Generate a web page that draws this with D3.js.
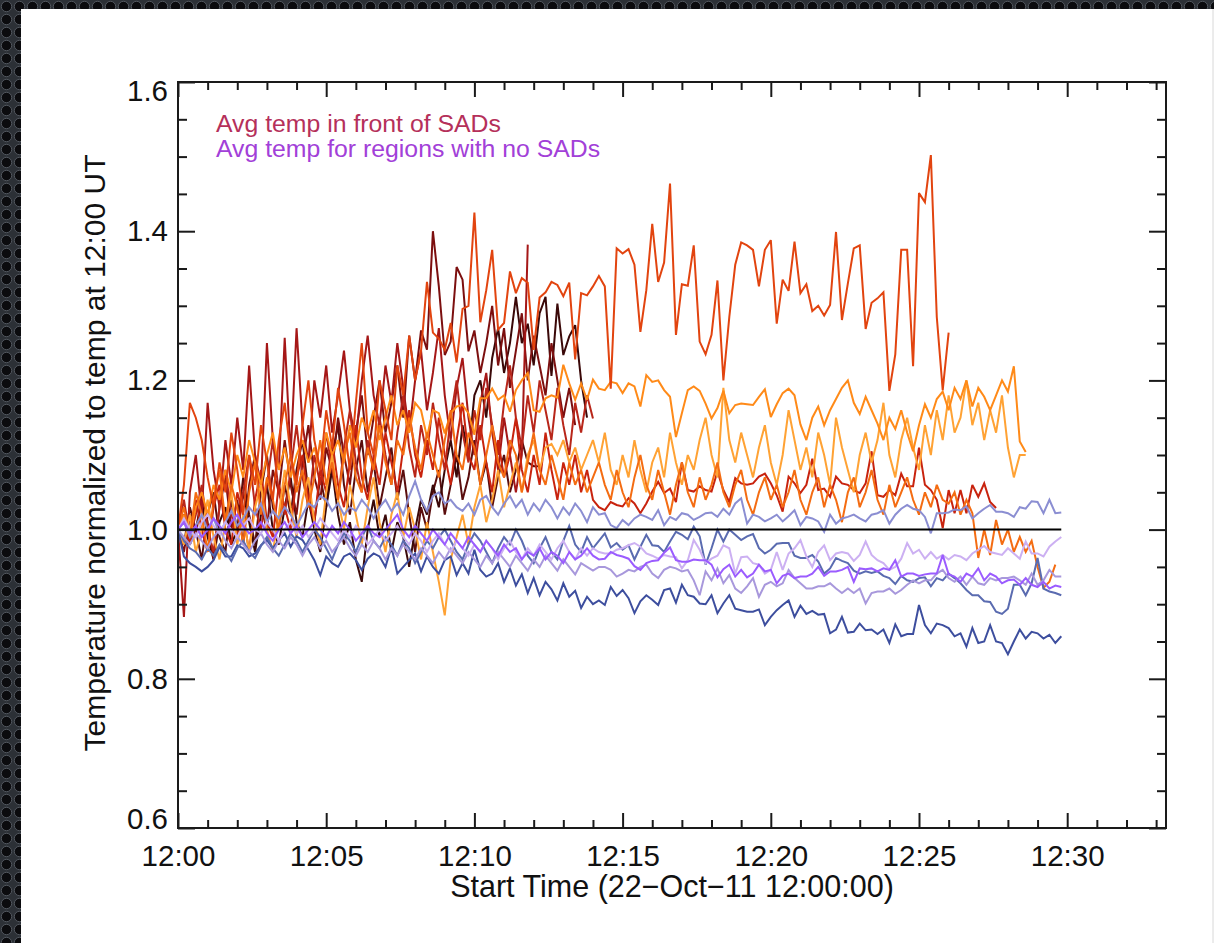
<!DOCTYPE html>
<html>
<head>
<meta charset="utf-8">
<script src="https://cdn.jsdelivr.net/npm/d3@7"></script>
<style>
  html, body { margin: 0; padding: 0; background: #202328; }
  svg { display: block; }
  text { font-family: "Liberation Sans", Arial, Helvetica, sans-serif; }
</style>
</head>
<body>
<script>
// Sampling cadence of every series (seconds after 12:00:00 UT)
const stepSeconds = 12;

// Axis ticks
const xMajorSeconds = [0, 300, 600, 900, 1200, 1500, 1800];
const xTickLabels = ["12:00", "12:05", "12:10", "12:15", "12:20", "12:25", "12:30"];
const yMajorValues = [0.6, 0.8, 1.0, 1.2, 1.4, 1.6];
const yTickLabels = ["0.6", "0.8", "1.0", "1.2", "1.4", "1.6"];

// Normalized temperature in front of SADs (one array per region)
const sadA = [1.0, 1.06, 1.17, 1.15, 1.12, 1.07, 1.03, 1.09, 1.05, 1.13, 1.08, 1.02, 1.1, 1.06, 1.14, 1.09, 1.04, 1.12, 1.17, 1.1, 1.06, 1.14, 1.2, 1.12, 1.08, 1.16, 1.11, 1.19, 1.14, 1.08, 1.17, 1.25, 1.13, 1.1, 1.2, 1.16, 1.12, 1.22, 1.18, 1.26, 1.2, 1.24,
  1.332,
  1.264, 1.256, 1.241, 1.277, 1.224, 1.296, 1.300, 1.425, 1.278, 1.321, 1.375, 1.268, 1.277, 1.346, 1.317, 1.337, 1.331, 1.241, 1.311, 1.318, 1.332, 1.328, 1.313, 1.331, 1.228, 1.317, 1.314, 1.326, 1.340, 1.326, 1.189, 1.377, 1.370, 1.376, 1.355, 1.265, 1.321, 1.410, 1.332, 1.358, 1.464,
  1.261, 1.329, 1.327, 1.381, 1.252, 1.235, 1.261, 1.334, 1.200, 1.285, 1.355, 1.385, 1.381, 1.375, 1.326, 1.375, 1.388, 1.276, 1.335, 1.320, 1.386, 1.317, 1.329, 1.293, 1.300, 1.287, 1.301, 1.399, 1.281, 1.330, 1.377, 1.381, 1.269, 1.304, 1.310, 1.318, 1.186, 1.235, 1.375, 1.375, 1.219, 1.451, 1.439, 1.502, 1.285, 1.187, 1.264];

const sadB = [1.0, 1.02, 0.99, 1.03, 1.05, 1.02, 1.06, 1.04, 1.08, 1.05, 1.1, 1.07, 1.12, 1.09, 1.06, 1.1, 1.13, 1.08, 1.11, 1.07, 1.1, 1.12, 1.09, 1.11, 1.08, 1.13, 1.1, 1.12, 1.09, 1.14, 1.11, 1.15, 1.13, 1.16, 1.12, 1.15, 1.18, 1.14, 1.16, 1.13, 1.17,
  1.160, 1.124, 1.160, 1.156, 1.129, 1.156, 1.165, 1.167, 1.156, 1.127, 1.176, 1.176, 1.189, 1.174, 1.180, 1.158, 1.187, 1.200, 1.210, 1.160, 1.158, 1.176, 1.180, 1.177, 1.221, 1.196, 1.174, 1.196, 1.174, 1.201, 1.189, 1.187, 1.198, 1.196, 1.183, 1.196, 1.192, 1.165, 1.207, 1.198, 1.200, 1.187, 1.178,
  1.124, 1.156, 1.187, 1.192, 1.186, 1.169, 1.149, 1.163, 1.186, 1.156, 1.167, 1.169, 1.168, 1.167, 1.178, 1.188, 1.151, 1.168, 1.183, 1.189, 1.18, 1.141, 1.12, 1.15, 1.165, 1.14, 1.16, 1.175, 1.19, 1.2, 1.17, 1.155, 1.178, 1.16, 1.142, 1.12, 1.15, 1.135, 1.16, 1.13, 1.105, 1.14, 1.168, 1.15, 1.175, 1.185, 1.16, 1.19, 1.175, 1.2, 1.165, 1.19, 1.178, 1.16, 1.18, 1.2, 1.185, 1.219, 1.118, 1.104];

const sadC = [1.0, 0.98, 1.02, 0.97, 1.0, 1.04, 0.99, 0.96, 1.01, 1.05, 0.98, 1.02, 0.97, 1.03, 1.06, 1.0, 0.97, 1.02, 1.08, 1.03, 0.99, 1.04, 1.07, 1.01, 0.98, 1.05, 1.1, 1.04, 1.0, 1.06, 1.02, 0.98, 1.03, 1.07, 1.01, 0.97, 1.02, 1.05, 0.99, 1.03, 1.0, 0.96, 1.01, 0.97, 0.93, 0.885, 0.96, 0.99, 1.02, 0.98, 1.03, 1.06, 1.01, 1.04, 1.08, 1.03, 1.06, 1.09, 1.05, 1.1, 1.12, 1.08, 1.11, 1.115, 1.1, 1.12, 1.09, 1.11, 1.08, 1.1, 1.12,
  1.09, 1.13, 1.08, 1.06, 1.1, 1.07, 1.12, 1.08, 1.05, 1.09, 1.11, 1.07, 1.13, 1.09, 1.06, 1.1, 1.08, 1.12, 1.15, 1.1, 1.07, 1.19, 1.12, 1.09, 1.13, 1.1, 1.07, 1.11, 1.14, 1.09, 1.06, 1.1, 1.16, 1.12, 1.08, 1.11, 1.07, 1.13, 1.1, 1.06, 1.15, 1.11, 1.08, 1.05, 1.1, 1.13, 1.09, 1.12, 1.17, 1.1, 1.07, 1.12, 1.15, 1.11, 1.08, 1.14, 1.1, 1.16, 1.12, 1.18, 1.13, 1.15, 1.2, 1.14, 1.17, 1.12, 1.16, 1.13, 1.18, 1.11, 1.07, 1.1, 1.1];

const sadD = [1.0, 1.03, 0.99, 1.05, 1.02, 0.97, 1.04, 1.08, 1.01, 1.06, 1.03, 0.98, 1.05, 1.09, 1.02, 1.07, 1.04, 1.0, 1.06, 1.1, 1.05, 1.08, 1.03, 1.07, 1.12, 1.06, 1.09, 1.04, 1.1, 1.13, 1.07, 1.05, 1.11, 1.08, 1.14, 1.09, 1.06, 1.12, 1.1, 1.15, 1.11, 1.08, 1.13, 1.1, 1.07, 1.12, 1.16, 1.1, 1.08, 1.13, 1.11, 1.06, 1.1, 1.14, 1.09, 1.07, 1.12, 1.1, 1.05, 1.09, 1.13, 1.08, 1.06, 1.1, 1.07, 1.04, 1.09, 1.06, 1.08, 1.05, 1.07,
  1.09, 1.06, 1.04, 1.08, 1.05, 1.03, 1.07, 1.1, 1.06, 1.04, 1.08, 1.05, 1.02, 1.06, 1.09, 1.05, 1.03, 1.07, 1.04, 1.06, 1.09, 1.05, 1.03, 1.06, 1.08, 1.04, 1.02, 1.05, 1.07, 1.04, 1.06, 1.03, 1.05, 1.08, 1.04, 1.02, 1.05, 1.07, 1.03, 1.06, 1.04, 1.01, 1.05, 1.07, 1.03, 1.05, 1.08, 1.04, 1.02, 1.06, 1.03, 1.05, 1.07, 1.04, 1.02, 1.05, 1.03, 1.06, 1.04, 1.035, 1.05, 1.02, 1.04, 1.022, 0.962, 1.0, 0.966, 1.013, 0.98, 1.0, 0.97, 0.99, 0.97, 0.985, 0.95, 0.922, 0.93, 0.953];

const sadE = [1.0, 1.02, 0.98, 1.04, 1.0, 0.97, 1.03, 1.06, 1.0, 0.98, 1.05, 1.02, 0.97, 1.04, 1.08, 1.01, 0.99, 1.06, 1.03, 1.0, 1.07, 1.1, 1.04, 1.01, 1.08, 1.05, 1.12, 1.06, 1.03, 1.09, 1.14, 1.07, 1.04, 1.1, 1.06, 1.13, 1.09, 1.05, 1.11, 1.16, 1.1, 1.07, 1.12, 1.08, 1.15, 1.1, 1.06, 1.12, 1.17, 1.1, 1.08, 1.14, 1.09, 1.05, 1.12, 1.07, 1.1, 1.15, 1.08, 1.05, 1.1, 1.06, 1.13, 1.08, 1.04, 1.09, 1.06, 1.1, 1.05, 1.08, 1.04, 1.03,
  1.026, 1.037, 1.033, 1.031, 1.042, 1.035, 1.022, 1.035, 1.051, 1.064, 1.049, 1.055, 1.037, 1.09, 1.053, 1.051, 1.058, 1.053, 1.051, 1.078, 1.053, 1.037, 1.069, 1.062, 1.06, 1.062, 1.071, 1.075, 1.062, 1.046, 1.024, 1.071, 1.062, 1.049, 1.06, 1.095, 1.053, 1.055, 1.044, 1.071, 1.062, 1.06, 1.053, 1.049, 1.062, 1.105, 1.046, 1.044, 1.053, 1.046, 1.075, 1.058, 1.058, 1.11, 1.06, 1.053, 1.04, 1.002, 1.053, 1.022, 1.053, 1.022, 1.06, 1.044, 1.062, 1.037, 1.029];

const sadF = [1.0, 0.883, 1.05, 1.1, 1.02, 1.17, 1.08, 1.03, 1.12, 1.06, 1.15, 1.08, 1.22, 1.1, 1.06, 1.25, 1.12, 1.08, 1.257, 1.1, 1.27, 1.14, 1.09, 1.2, 1.15, 1.22, 1.13, 1.18, 1.24, 1.16, 1.12, 1.2, 1.26, 1.18, 1.14, 1.22, 1.17, 1.25, 1.19, 1.13, 1.2, 1.24, 1.16, 1.21, 1.27, 1.18, 1.12, 1.19, 1.23, 1.15, 1.1, 1.17, 1.21, 1.13, 1.08, 1.15, 1.1, 1.05, 1.1, 1.382];

const sadG = [1.0, 0.97, 1.02, 0.99, 1.05, 1.01, 0.96, 1.03, 1.07, 1.0, 1.04, 0.98, 1.06, 1.1, 1.03, 1.0, 1.08, 1.05, 1.12, 1.06, 1.02, 1.09, 1.14, 1.07, 1.04, 1.11, 1.08, 1.15, 1.1, 1.06, 1.13, 1.18, 1.1, 1.15, 1.2, 1.13, 1.17, 1.22, 1.15, 1.26, 1.2, 1.267, 1.241, 1.400, 1.326, 1.234, 1.252, 1.352, 1.335, 1.239, 1.267, 1.21, 1.25, 1.3, 1.22, 1.27, 1.19, 1.24, 1.29, 1.2, 1.26, 1.22, 1.18, 1.25, 1.2, 1.15, 1.19, 1.14];

const sadH = [1.0, 1.02, 0.98, 1.0, 1.04, 0.99, 0.96, 1.01, 1.03, 0.98, 1.0, 1.05, 1.01, 0.97, 1.02, 1.06, 1.0, 0.98, 1.03, 1.07, 1.01, 0.99, 1.04, 1.0, 0.97, 1.03, 1.08, 1.02, 0.98, 1.01, 0.96, 0.93, 1.0, 1.04, 0.99, 1.02, 0.97, 1.01, 0.99, 0.95, 1.0, 1.04, 1.02, 1.06, 1.03, 1.08, 1.12, 1.07, 1.14, 1.1, 1.18, 1.2, 1.15, 1.23, 1.27, 1.21, 1.25, 1.312, 1.25, 1.276, 1.22, 1.29, 1.312, 1.206, 1.303, 1.234, 1.259, 1.274, 1.2, 1.15];

const sadI = [1.0, 1.04, 0.99, 1.02, 1.06, 1.0, 0.97, 1.03, 1.08, 1.02, 0.99, 1.05, 1.1, 1.03, 1.0, 1.06, 1.12, 1.05, 1.02, 1.08, 1.14, 1.07, 1.03, 1.1, 1.06, 1.13, 1.08, 1.04, 1.11, 1.16, 1.09, 1.05, 1.12, 1.08, 1.15, 1.1, 1.06, 1.13, 1.18, 1.11, 1.07, 1.14, 1.1, 1.17, 1.12, 1.08, 1.15, 1.2, 1.13, 1.09, 1.16, 1.12, 1.19, 1.14, 1.1, 1.17, 1.22, 1.15, 1.11, 1.18, 1.13, 1.2, 1.16, 1.12, 1.19, 1.14, 1.1, 1.17, 1.13, 1.18, 1.149];

const sadJ = [1.0, 0.98, 1.03, 1.0, 0.96, 1.02, 1.05, 0.99, 0.97, 1.04, 1.0, 1.07, 1.02, 0.98, 1.05, 1.1, 1.03, 1.0, 1.06, 1.02, 1.08, 1.12, 1.05, 1.01, 1.07, 1.03, 1.1, 1.14, 1.06, 1.02, 1.08, 1.12, 1.05, 1.09, 1.03, 1.07, 1.11, 1.04, 1.08, 1.02, 0.97, 1.03, 1.0, 1.05, 1.08, 1.02, 1.06, 1.1, 1.04, 1.07, 1.12, 1.06, 1.09, 1.03, 1.07, 1.1, 1.05, 1.08, 1.12, 1.09, 1.085, 1.085];

// Normalized temperature for regions with no SADs
const noSad1 = [1.0, 0.964, 0.955, 0.950, 0.944, 0.950, 0.959, 0.977, 0.964, 0.964, 0.979, 0.975, 0.964, 0.968, 0.979, 0.986, 0.975, 0.986, 0.995, 0.977, 0.991, 0.986, 0.973, 0.959, 0.939, 0.964, 0.955, 0.950, 0.964, 0.968, 0.959, 0.946, 0.961, 0.968, 0.964, 0.950, 0.977, 0.941, 0.950, 0.959, 0.968, 0.944, 0.964, 0.950, 0.941, 0.959, 0.964, 0.939, 0.955, 0.941, 0.973, 0.946, 0.937, 0.941,
  0.955, 0.93, 0.948, 0.925, 0.94, 0.915, 0.935, 0.912, 0.93, 0.92, 0.905, 0.928, 0.91, 0.918, 0.895, 0.91, 0.9, 0.905,
  0.899, 0.923, 0.911, 0.919, 0.908, 0.888, 0.904, 0.912, 0.906, 0.899, 0.919, 0.921, 0.902, 0.926, 0.912, 0.910, 0.901, 0.900, 0.912, 0.888, 0.901, 0.912, 0.894, 0.892, 0.890, 0.890, 0.893, 0.872, 0.883, 0.892, 0.899, 0.905, 0.883, 0.898, 0.887, 0.891, 0.886, 0.887, 0.861, 0.866, 0.883, 0.862, 0.863, 0.874, 0.865, 0.866, 0.860, 0.866, 0.848, 0.873, 0.857, 0.860, 0.860, 0.899, 0.872, 0.861, 0.874, 0.872, 0.868, 0.857, 0.861, 0.843, 0.868, 0.848, 0.850, 0.872, 0.850, 0.848, 0.833, 0.850, 0.866, 0.854, 0.863, 0.861, 0.854, 0.859, 0.848, 0.857];

const noSad2 = [1.0, 0.985, 0.975, 0.97, 0.96, 0.975, 0.965, 0.98, 0.97, 0.958, 0.975, 0.985, 0.97, 0.962, 0.978, 0.99, 0.975, 0.965, 0.98, 0.995, 0.985, 0.97, 0.985, 1.0, 0.99, 0.975, 0.96, 0.98, 0.995, 0.985, 0.97, 0.99, 1.005, 0.985, 0.975, 0.99, 0.98, 0.965, 0.985, 0.975, 0.955, 0.97, 0.985, 0.975, 0.99, 1.0, 0.985, 0.97, 0.96, 0.98, 0.995, 0.985, 0.97, 0.955, 0.975, 0.99, 0.98, 1.0, 0.985, 0.965, 0.955, 0.975, 0.99, 0.97, 0.96, 0.985, 1.005, 0.98, 0.97, 0.99, 0.975, 0.985,
  0.995, 0.976, 0.982, 0.973, 0.979, 0.960, 0.977, 0.993, 0.979, 0.978, 0.970, 0.984, 0.997, 0.993, 0.987, 1.004, 0.991, 0.953, 0.975, 1.000, 0.984, 1.000, 0.993, 0.986, 0.991, 0.994, 0.975, 0.968, 0.973, 0.981, 0.982, 0.982, 0.965, 0.962, 0.962, 0.966, 0.957, 0.941, 0.948, 0.962, 0.958, 0.955, 0.945, 0.941, 0.944, 0.942, 0.944, 0.938, 0.935, 0.927, 0.938, 0.932, 0.930, 0.935, 0.936, 0.924, 0.935, 0.932, 0.941, 0.935, 0.928, 0.919, 0.912, 0.912, 0.904, 0.903, 0.890, 0.887, 0.894, 0.926, 0.926, 0.912, 0.928, 0.962, 0.921, 0.917, 0.915, 0.912];

const noSad3 = [1.0, 1.01, 0.99, 1.005, 1.02, 1.0, 1.015, 0.995, 1.01, 1.025, 1.005, 1.015, 1.03, 1.02, 1.035, 1.01, 1.025, 1.015, 1.03, 1.02, 1.005, 1.02, 1.035, 1.03, 1.045, 1.04, 1.025, 1.035, 1.02, 1.03, 1.025, 1.04, 1.03, 1.015, 1.03, 1.04, 1.025, 1.035, 1.02, 1.045, 1.065, 1.04, 1.025, 1.045, 1.05, 1.035, 1.04, 1.03, 1.025, 1.035, 1.02, 1.04, 1.045, 1.03, 1.02, 1.035, 1.045, 1.03, 1.04, 1.02, 1.035, 1.025, 1.04, 1.03, 1.015, 1.03, 1.02, 1.035, 1.025, 1.01, 1.03, 1.02,
  1.022, 1.006, 1.002, 1.013, 1.006, 1.015, 1.020, 1.017, 1.013, 1.026, 1.006, 1.017, 1.013, 1.022, 1.020, 1.013, 1.017, 1.022, 1.023, 1.017, 1.028, 1.020, 1.035, 1.042, 1.008, 1.020, 1.017, 1.011, 1.015, 1.020, 1.011, 1.018, 1.026, 1.006, 1.017, 1.015, 1.011, 0.997, 1.020, 1.008, 1.015, 1.017, 1.020, 1.015, 1.011, 1.020, 1.022, 1.026, 1.008, 1.020, 1.028, 1.033, 1.028, 1.026, 1.017, 0.995, 1.022, 1.022, 1.023, 1.027, 1.026, 1.031, 1.015, 1.022, 1.028, 1.033, 1.024, 1.024, 1.022, 1.017, 1.030, 1.028, 1.038, 1.037, 1.022, 1.040, 1.022, 1.023];

const noSad4 = [1.0, 1.01, 0.995, 1.005, 0.99, 1.0, 1.015, 1.005, 0.995, 1.01, 1.02, 1.005, 0.995, 1.0, 1.01, 0.995, 0.985, 1.0, 1.01, 0.995, 1.005, 0.99, 1.0, 1.01, 1.0, 0.99, 1.005, 0.995, 1.01, 1.0, 0.985, 0.995, 1.005, 0.995, 0.99, 1.0, 1.01, 1.02, 1.0, 0.99, 1.005, 0.995, 0.985, 1.0, 0.99, 0.98, 0.995, 0.985, 0.975, 0.99, 0.98, 0.97, 0.985, 0.975, 0.965, 0.98, 0.97, 0.975, 0.96, 0.97, 0.965, 0.975, 0.96, 0.97, 0.965, 0.955, 0.97, 0.96, 0.965, 0.975, 0.965, 0.96,
  0.961, 0.970, 0.966, 0.964, 0.961, 0.951, 0.946, 0.955, 0.958, 0.959, 0.969, 0.976, 0.959, 0.957, 0.957, 0.960, 0.959, 0.959, 0.953, 0.936, 0.947, 0.953, 0.937, 0.946, 0.936, 0.941, 0.953, 0.944, 0.946, 0.928, 0.938, 0.941, 0.935, 0.937, 0.937, 0.941, 0.950, 0.938, 0.944, 0.944, 0.946, 0.950, 0.930, 0.948, 0.947, 0.948, 0.944, 0.948, 0.946, 0.959, 0.937, 0.941, 0.941, 0.938, 0.940, 0.941, 0.941, 0.966, 0.940, 0.937, 0.930, 0.941, 0.937, 0.948, 0.932, 0.941, 0.937, 0.928, 0.932, 0.933, 0.926, 0.935, 0.926, 0.923, 0.930, 0.921, 0.925, 0.923];

const noSad5 = [1.0, 1.015, 1.0, 0.99, 1.01, 1.02, 1.005, 0.995, 1.01, 1.0, 0.99, 1.005, 1.015, 1.0, 0.995, 1.01, 1.0, 0.985, 1.0, 1.01, 0.995, 1.005, 0.99, 1.0, 1.015, 1.005, 0.995, 0.985, 1.0, 0.99, 1.005, 0.995, 0.98, 0.99, 1.0, 0.985, 0.995, 1.005, 0.99, 0.98, 0.995, 0.985, 0.97, 0.985, 0.995, 0.98, 0.97, 0.985, 0.975, 0.965, 0.98, 0.97, 0.985, 0.975, 0.96, 0.975, 0.985, 0.97, 0.96, 0.975, 0.965, 0.98, 0.97, 0.96, 0.975, 0.985, 0.97, 0.96, 0.975, 0.965, 0.975, 0.97,
  0.968, 0.968, 0.973, 0.975, 0.979, 0.982, 0.977, 0.968, 0.965, 0.961, 0.966, 0.964, 0.963, 0.948, 0.959, 0.986, 0.973, 0.955, 0.961, 0.965, 0.979, 0.975, 0.941, 0.963, 0.964, 0.955, 0.953, 0.941, 0.946, 0.970, 0.946, 0.968, 0.975, 0.986, 0.964, 0.950, 0.970, 0.979, 0.959, 0.968, 0.970, 0.968, 0.958, 0.966, 0.984, 0.966, 0.959, 0.955, 0.946, 0.950, 0.961, 0.982, 0.968, 0.973, 0.961, 0.970, 0.961, 0.966, 0.960, 0.966, 0.964, 0.959, 0.968, 0.973, 0.978, 0.970, 0.968, 0.966, 0.975, 0.968, 0.961, 0.984, 0.968, 0.968, 0.964, 0.977, 0.984, 0.990];

const noSad6 = [1.0, 0.99, 0.98, 0.995, 0.985, 0.975, 0.99, 1.0, 0.985, 0.975, 0.99, 0.98, 0.97, 0.985, 0.995, 0.98, 0.97, 0.985, 0.975, 0.99, 0.98, 0.965, 0.98, 0.99, 0.975, 0.985, 0.97, 0.98, 0.99, 0.975, 0.965, 0.98, 0.97, 0.985, 0.975, 0.96, 0.975, 0.965, 0.98, 0.97, 0.96, 0.975, 0.965, 0.955, 0.97, 0.96, 0.975, 0.965, 0.955, 0.97, 0.96, 0.95, 0.965, 0.955, 0.97, 0.96, 0.95, 0.965, 0.955, 0.945, 0.96, 0.95, 0.965, 0.955, 0.945, 0.96, 0.95, 0.94, 0.955, 0.95, 0.945, 0.95,
  0.950, 0.946, 0.937, 0.941, 0.946, 0.944, 0.950, 0.953, 0.941, 0.935, 0.946, 0.950, 0.948, 0.944, 0.946, 0.932, 0.912, 0.944, 0.932, 0.948, 0.928, 0.939, 0.921, 0.915, 0.924, 0.935, 0.910, 0.926, 0.930, 0.924, 0.928, 0.946, 0.935, 0.928, 0.921, 0.921, 0.924, 0.924, 0.928, 0.921, 0.915, 0.921, 0.915, 0.921, 0.901, 0.915, 0.917, 0.917, 0.921, 0.914, 0.919, 0.926, 0.932, 0.928, 0.932, 0.932, 0.941, 0.946, 0.935, 0.930, 0.937, 0.926, 0.937, 0.928, 0.926, 0.935, 0.932, 0.935, 0.935, 0.937, 0.932, 0.926, 0.941, 0.926, 0.932, 0.946, 0.937, 0.937];

// Line colours (drawn in this order: SAD regions first, quiet regions on top)
const seriesValues = [sadJ, sadH, sadG, sadF, sadI, sadE, sadC, sadB, sadD, sadA,
                      noSad1, noSad2, noSad3, noSad6, noSad5, noSad4];
const seriesColors = ["#5a0d0d", "#3a0808", "#7c0f0f", "#a51717", "#b8261a", "#c8230e", "#ffa234", "#ff8a18", "#f46c12", "#e2440f",
                      "#3d4e9e", "#5a6bb0", "#8b8ed2", "#a898dc", "#ccb0f2", "#9b5cff"];

const legendLines = ["Avg temp in front of SADs", "Avg temp for regions with no SADs"];
const legendColors = ["#b5305a", "#a240d8"];

// ---------------------------------------------------------------
const W = 1214, H = 943;
const plot = { left: 178, right: 1166, top: 82, bottom: 828 };

const svg = d3.select("body").append("svg")
  .attr("width", W).attr("height", H);

// Perforated dark frame behind the white page
const defs = svg.append("defs");
const holes = defs.append("pattern")
  .attr("id", "holes").attr("patternUnits", "userSpaceOnUse")
  .attr("width", 13).attr("height", 13);
holes.append("rect").attr("width", 13).attr("height", 13).attr("fill", "#2c3036");
holes.append("circle").attr("cx", 6.5).attr("cy", 6.5).attr("r", 5.2)
  .attr("fill", "#0b0b0e").attr("stroke", "#50555d").attr("stroke-width", 1);
svg.append("rect").attr("width", W).attr("height", H).attr("fill", "url(#holes)");
svg.append("rect").attr("x", 21).attr("y", 9).attr("width", W - 21).attr("height", H - 9).attr("fill", "#ffffff");
svg.append("line").attr("x1", W - 1).attr("x2", W - 1).attr("y1", 9).attr("y2", H)
  .attr("stroke", "#d8d8d8").attr("stroke-width", 1);

const x = d3.scaleLinear().domain([0, 2000]).range([plot.left, plot.right]);
const y = d3.scaleLinear().domain([0.6, 1.6]).range([plot.bottom, plot.top]);

const xMinor = d3.range(0, 2000, 60).filter(s => !xMajorSeconds.includes(s));
const yMinor = d3.range(0.6, 1.6001, 0.05).map(v => +v.toFixed(2)).filter(v => !yMajorValues.includes(v));

// Data lines
const line = d3.line().x(d => x(d.t)).y(d => y(d.v));
const lines = svg.append("g").attr("fill", "none").attr("stroke-width", 2)
  .attr("stroke-linejoin", "miter").attr("stroke-miterlimit", 3);
seriesValues.forEach((vals, i) => {
  const pts = vals.map((v, k) => ({ t: k * stepSeconds, v }));
  lines.append("path").datum(pts).attr("d", line).attr("stroke", seriesColors[i]);
});

// Reference level at 1.0
const refEnd = d3.max(seriesValues, s => (s.length - 1) * stepSeconds);
svg.append("line")
  .attr("x1", x(0)).attr("x2", x(refEnd))
  .attr("y1", y(1.0)).attr("y2", y(1.0))
  .attr("stroke", "#000").attr("stroke-width", 2);

// Axes
const axisColor = "#1a1a1a";
function styleAxis(g) {
  g.select(".domain").remove();
  g.selectAll(".tick line").attr("stroke", axisColor).attr("stroke-width", 2);
  g.selectAll("text").attr("fill", "#111").style("font-size", "29.5px")
    .style("font-family", '"Liberation Sans", Arial, sans-serif');
}
const xLabel = s => xTickLabels[xMajorSeconds.indexOf(s)];
const yLabel = v => yTickLabels[yMajorValues.indexOf(v)];

svg.append("g").attr("transform", `translate(0,${plot.bottom})`)
  .call(d3.axisBottom(x).tickValues(xMajorSeconds).tickFormat(xLabel).tickSize(-15).tickPadding(17))
  .call(styleAxis);
svg.append("g").attr("transform", `translate(0,${plot.bottom})`)
  .call(d3.axisBottom(x).tickValues(xMinor).tickFormat("").tickSize(-8)).call(styleAxis);
svg.append("g").attr("transform", `translate(0,${plot.top})`)
  .call(d3.axisTop(x).tickValues(xMajorSeconds).tickFormat("").tickSize(-15)).call(styleAxis);
svg.append("g").attr("transform", `translate(0,${plot.top})`)
  .call(d3.axisTop(x).tickValues(xMinor).tickFormat("").tickSize(-8)).call(styleAxis);

const yAxisG = svg.append("g").attr("transform", `translate(${plot.left},0)`)
  .call(d3.axisLeft(y).tickValues(yMajorValues).tickFormat(yLabel).tickSize(-17).tickPadding(10))
  .call(styleAxis);
// keep the end labels inside the vertical extent of the frame
yAxisG.selectAll(".tick text").attr("dy", v => v === 1.6 ? "0.62em" : v === 0.6 ? "0.0em" : "0.32em");
svg.append("g").attr("transform", `translate(${plot.left},0)`)
  .call(d3.axisLeft(y).tickValues(yMinor).tickFormat("").tickSize(-9)).call(styleAxis);
svg.append("g").attr("transform", `translate(${plot.right},0)`)
  .call(d3.axisRight(y).tickValues(yMajorValues).tickFormat("").tickSize(-17)).call(styleAxis);
svg.append("g").attr("transform", `translate(${plot.right},0)`)
  .call(d3.axisRight(y).tickValues(yMinor).tickFormat("").tickSize(-9)).call(styleAxis);

// Frame
svg.append("rect")
  .attr("x", plot.left).attr("y", plot.top)
  .attr("width", plot.right - plot.left).attr("height", plot.bottom - plot.top)
  .attr("fill", "none").attr("stroke", axisColor).attr("stroke-width", 2);

// Axis titles
svg.append("text")
  .attr("x", 672).attr("y", 897)
  .attr("text-anchor", "middle").style("font-size", "30.5px").attr("fill", "#111")
  .text("Start Time (22\u2212Oct\u221211 12:00:00)");
svg.append("text")
  .attr("transform", `translate(105,453) rotate(-90)`)
  .attr("text-anchor", "middle").style("font-size", "30px").attr("fill", "#111")
  .text("Temperature normalized to temp at 12:00 UT");

// Legend
legendLines.forEach((txt, i) => {
  svg.append("text")
    .attr("x", 216).attr("y", 132 + i * 25)
    .style("font-size", "24.8px").attr("fill", legendColors[i])
    .text(txt);
});
</script>
</body>
</html>
